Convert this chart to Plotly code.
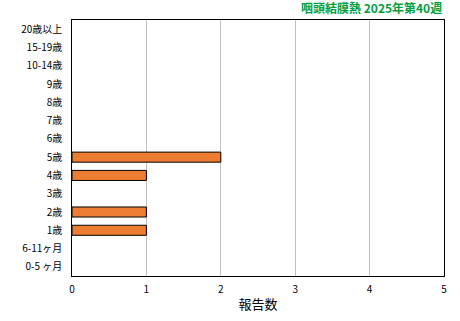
import plotly.graph_objects as go

categories = ["0-5 ヶ月", "6-11ヶ月", "1歳", "2歳", "3歳", "4歳", "5歳", "6歳", "7歳", "8歳", "9歳", "10-14歳", "15-19歳", "20歳以上"]
values = [0, 0, 1, 1, 0, 1, 2, 0, 0, 0, 0, 0, 0, 0]
x_ticks = [0, 1, 2, 3, 4, 5]
title_text = "咽頭結膜熱 2025年第40週"
x_title = "報告数"

font_family = "Noto Sans CJK JP"

fig = go.Figure()
fig.add_trace(go.Bar(
    y=categories, x=values, orientation="h",
    marker=dict(color="#ED7D31",
                line=dict(color="#000000", width=[1 if v > 0 else 0 for v in values])),
    width=0.55,
))

fig.update_layout(
    width=460, height=321,
    margin=dict(l=72, r=16, t=20, b=43),
    paper_bgcolor="white", plot_bgcolor="white",
    showlegend=False,
    font=dict(family=font_family, size=10, color="#000000"),
    xaxis=dict(
        range=[0, 5], tickvals=x_ticks, ticktext=[str(v) for v in x_ticks],
        showgrid=True, gridcolor="#C0C0C0", gridwidth=1,
        showline=True, linecolor="#000000", linewidth=1, mirror=True,
        zeroline=False, ticks="", tickfont=dict(size=10), ticklabelstandoff=4,
        title=dict(text=x_title, font=dict(size=13), standoff=4),
        fixedrange=True,
    ),
    yaxis=dict(
        type="category", categoryorder="array", categoryarray=categories,
        range=[-0.5, len(categories) - 0.5],
        showgrid=False, showline=True, linecolor="#000000", linewidth=1, mirror=True,
        ticks="", tickfont=dict(size=10), ticksuffix="   ",
        fixedrange=True,
    ),
    annotations=[dict(
        text="<b>" + title_text + "</b>", xref="paper", yref="paper",
        x=1, y=1, xanchor="right", yanchor="bottom", yshift=2, showarrow=False,
        font=dict(family=font_family, size=12, color="#00A040"),
    )],
)

fig.write_html("out.html")
